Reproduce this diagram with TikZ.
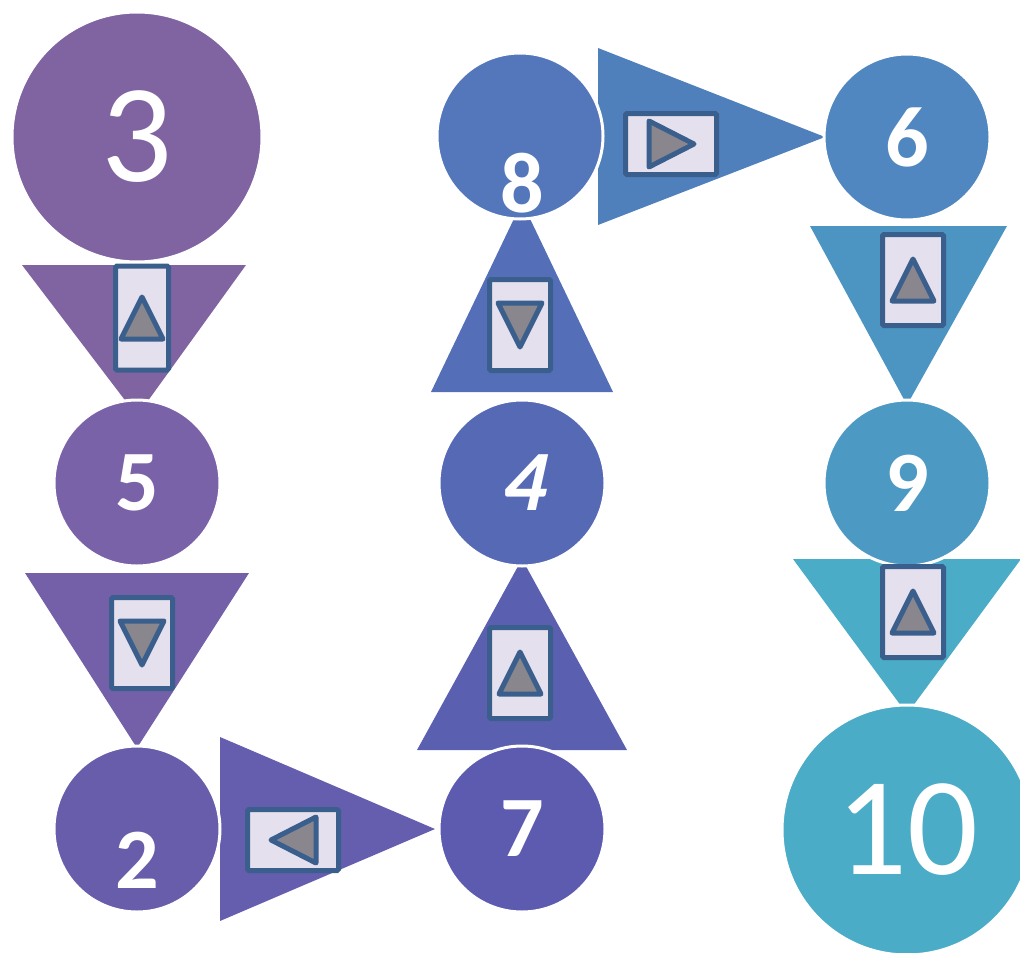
\documentclass[tikz,border=0pt]{standalone}
\usepackage{fontspec}
\newfontfamily\numfont{Carlito}
\newfontfamily\numslant[FakeSlant=0.22]{Carlito}
\usepackage{tikz}
\usetikzlibrary{calc}
\definecolor{c3}{HTML}{8064A2}
\definecolor{c35}{HTML}{8064A2}
\definecolor{c5}{HTML}{7962A8}
\definecolor{c52}{HTML}{7460A8}
\definecolor{c2}{HTML}{685DAA}
\definecolor{c27}{HTML}{655DAE}
\definecolor{c7}{HTML}{5C5BB0}
\definecolor{c74}{HTML}{5A5FB0}
\definecolor{c4}{HTML}{5669B4}
\definecolor{c48}{HTML}{546FB8}
\definecolor{c8}{HTML}{5476BB}
\definecolor{c86}{HTML}{5080BC}
\definecolor{c6}{HTML}{5087C0}
\definecolor{c69}{HTML}{4C95C2}
\definecolor{c9}{HTML}{4C99C4}
\definecolor{c910}{HTML}{4AACC6}
\definecolor{c10}{HTML}{4AACC6}
\definecolor{boxfill}{HTML}{E5E0EE}
\definecolor{boxline}{HTML}{3A5F8C}
\definecolor{glyphgray}{HTML}{8A868E}
\tikzset{
  stepcirc/.style={
    circle, draw=white, line width=3pt, inner sep=0pt,
    minimum size=166pt, text=white,
    font=\numfont\fontsize{86}{86}\selectfont\bfseries
  },
  bigstep/.style={
    stepcirc, minimum size=250pt,
    font=\numfont\fontsize{140}{140}\selectfont
  },
  numlbl/.style={text=white, inner sep=0pt, font=\numfont\fontsize{86}{86}\selectfont\bfseries},
  ctrlbox/.style={
    draw=boxline, fill=boxfill, line width=5pt, rounded corners=1.5pt,
    minimum width=61pt, minimum height=91pt, inner sep=0pt
  },
  ctrlboxwide/.style={ctrlbox, minimum width=91pt, minimum height=61pt},
  glyph/.style={draw=boxline, fill=glyphgray, line width=5pt, line join=round},
}
\begin{document}
\begin{tikzpicture}[x=1pt, y=-1pt]
  \clip (0,0) rectangle (1020,953);
  % pointers between the steps
  \fill[c35] (22,265) -- (246,265) -- (137,416) -- cycle;
  \fill[c52] (25,573) -- (249,573) -- (137,748) -- cycle;
  \fill[c27] (220,737) -- (220,921) -- (435,829) -- cycle;
  \fill[c74] (417,750) -- (627,750) -- (522,559) -- cycle;
  \fill[c48] (431,392) -- (613,392) -- (522,202) -- cycle;
  \fill[c86] (598,48) -- (598,225) -- (825,137) -- cycle;
  \fill[c69] (810,226) -- (1007,226) -- (907,405) -- cycle;
  \fill[c910] (793,559) -- (1021,559) -- (907,714) -- cycle;
  % steps
  \node[bigstep, fill=c3] (n3) at (137,137) {3};
  \node[stepcirc, fill=c5] (n5) at (137,483) {5};
  \node[stepcirc, fill=c2, label={[numlbl, yshift=-31pt]center:2}] (n2) at (137,829) {};
  \node[stepcirc, fill=c7] (n7) at (522,829) {7};
  \node[stepcirc, fill=c4, font=\numslant\fontsize{86}{86}\selectfont\bfseries] (n4) at (522,483) {4};
  \node[stepcirc, fill=c8, label={[numlbl, yshift=-47pt, xshift=2pt]center:8}] (n8) at (520,136) {};
  \node[stepcirc, fill=c6] (n6) at (907,137) {6};
  \node[stepcirc, fill=c9] (n9) at (907,483) {9};
  \node[bigstep, fill=c10] (n10) at (907,830) {10};
  % control boxes
  \node[ctrlbox, minimum width=53pt, minimum height=104pt] (b35) at (142,318) {};
  \node[ctrlbox] (b52) at (142,643) {};
  \node[ctrlboxwide] (b27) at (293,840) {};
  \node[ctrlbox] (b74) at (520,673) {};
  \node[ctrlbox] (b48) at (520,325) {};
  \node[ctrlboxwide] (b86) at (671,144) {};
  \node[ctrlbox] (b69) at (913,280) {};
  \node[ctrlbox] (b910) at (913,612) {};
  \foreach \b in {b35,b74,b69,b910}
    \draw[glyph, shift={(\b)}] (0,-21) -- (21,21) -- (-21,21) -- cycle;
  \foreach \b in {b52,b48}
    \draw[glyph, shift={(\b)}] (-22,-22) -- (22,-22) -- (0,22) -- cycle;
  \draw[glyph, shift={(b27)}] (-22,0) -- (23,-23) -- (23,23) -- cycle;
  \draw[glyph, shift={(b86)}] (-22,-23) -- (-22,23) -- (23,0) -- cycle;
\end{tikzpicture}
\end{document}
